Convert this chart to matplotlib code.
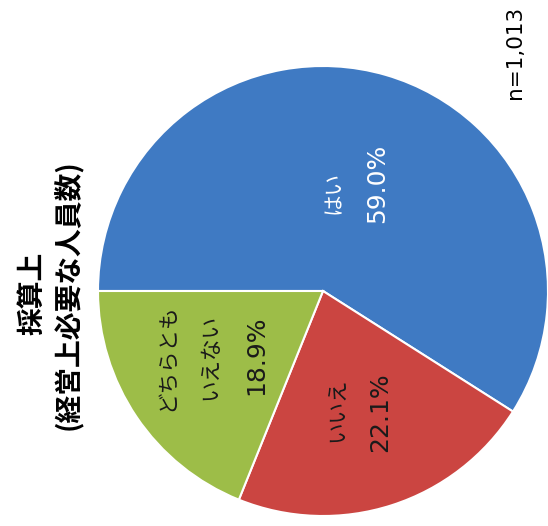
import matplotlib.pyplot as plt

# answer shares (percent), drawn clockwise from the left
answers = ['はい', 'いいえ', 'どちらとも\nいえない']
shares = [59.0, 22.1, 18.9]
colors = ['#3F7AC3', '#CB4541', '#9DBD48']
label_colors = ['white', '#1a1a1a', '#1a1a1a']

title = '採算上'
subtitle = '(経営上必要な人員数)'
n_text = 'n=1,013'

# pie centre / radius in the 548x526 picture, used to place the text
CX, CY, R = 323, 291, 225


def px(x, y):
    return (x - CX) / R, (CY - y) / R


# where the name and the percent of each slice sit (picture pixels)
name_pos = [(334, 193), (338, 410), (189, 357)]
pct_pos = [(377, 183), (380, 412), (256, 355)]

cjk = ['Noto Sans CJK JP']
latin = ['DejaVu Sans', 'Noto Sans CJK JP']

fig = plt.figure(figsize=(5.48, 5.26), dpi=100)
ax = fig.add_axes([0, 0, 1, 1])

ax.pie(shares, colors=colors, startangle=180, counterclock=False, radius=1,
       wedgeprops=dict(edgecolor='white', linewidth=1.5))

# whole chart is turned on its side, so every text reads bottom to top
for name, val, npos, ppos, c in zip(answers, shares, name_pos, pct_pos, label_colors):
    ax.text(*px(*npos), name, rotation=90, ha='center', va='center',
            fontsize=15.5, color=c, family=cjk, linespacing=2.2,
            multialignment='center')
    ax.text(*px(*ppos), f'{val:.1f}%', rotation=90, ha='center', va='center',
            fontsize=18, color=c, family=latin)

ax.text(*px(32, 293), title, rotation=90, ha='center', va='center',
        fontsize=20, fontweight='bold', family=cjk)
ax.text(*px(68, 295), subtitle, rotation=90, ha='center', va='center',
        fontsize=20, fontweight='bold', family=cjk)
ax.text(*px(515, 99), n_text, rotation=90, ha='center', va='bottom',
        fontsize=15.5, family=latin)

ax.set_xlim(-CX / R, (548 - CX) / R)
ax.set_ylim((CY - 526) / R, CY / R)
ax.set_aspect('auto')
ax.axis('off')

fig.savefig('out.png', dpi=100)
